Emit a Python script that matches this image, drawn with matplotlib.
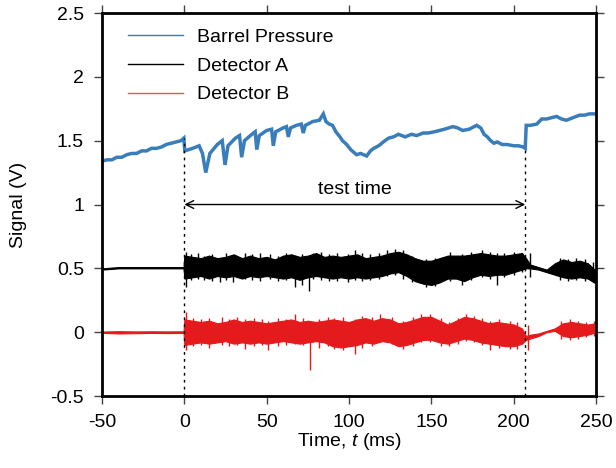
import numpy as np
import matplotlib.pyplot as plt
import matplotlib as mpl

mpl.rcParams['font.family'] = ['Liberation Sans', 'DejaVu Sans']
mpl.rcParams['mathtext.fontset'] = 'custom'
mpl.rcParams['mathtext.it'] = 'Liberation Sans:italic'
mpl.rcParams['mathtext.rm'] = 'Liberation Sans'
mpl.rcParams['axes.unicode_minus'] = False

# barrel pressure (V)
t_barrel = [-50, -47, -44, -41, -38, -35, -32, -29, -26, -23, -20, -17, -14,
            -11, -8, -5, -2, -0.3,
            0.3, 5, 9, 11, 13, 15.5, 20, 23, 24.7, 26.5, 31, 33.5, 34.8, 36.5,
            41, 43, 44, 45.5, 50, 53, 54, 55.5, 60, 62, 63.1, 64.5, 68, 71,
            72.2, 73.5, 78, 82, 84.4, 86, 88, 90, 92, 94.5, 96, 98.6, 101,
            104.6, 107, 110.7, 113, 115, 118, 120.8, 124, 127, 130, 134, 138,
            141, 145, 148, 152, 155, 158, 163, 166, 169, 173, 177.5, 180, 182,
            184, 186, 188, 190, 193, 196, 200, 203, 205.8, 207, 207.6, 210,
            214, 217, 220, 223, 226, 229, 232, 236, 240, 243, 246, 250]
v_barrel = [1.34, 1.35, 1.35, 1.37, 1.37, 1.39, 1.40, 1.40, 1.42, 1.42, 1.44,
            1.44, 1.45, 1.47, 1.48, 1.49, 1.50, 1.52,
            1.42, 1.44, 1.46, 1.40, 1.25, 1.40, 1.47, 1.50, 1.31, 1.46, 1.52,
            1.54, 1.37, 1.50, 1.55, 1.57, 1.43, 1.54, 1.58, 1.59, 1.46, 1.57,
            1.60, 1.61, 1.53, 1.60, 1.62, 1.63, 1.56, 1.62, 1.65, 1.66, 1.71,
            1.65, 1.63, 1.62, 1.57, 1.53, 1.50, 1.47, 1.43, 1.39, 1.40, 1.38,
            1.42, 1.44, 1.46, 1.49, 1.52, 1.53, 1.55, 1.53, 1.55, 1.54, 1.56,
            1.56, 1.57, 1.58, 1.59, 1.61, 1.60, 1.58, 1.59, 1.62, 1.60, 1.55,
            1.53, 1.50, 1.48, 1.49, 1.47, 1.47, 1.46, 1.46, 1.45, 1.44, 1.62,
            1.62, 1.63, 1.67, 1.67, 1.68, 1.69, 1.67, 1.66, 1.68, 1.70, 1.70,
            1.71, 1.71]

# detector envelopes (upper / lower edge of the noise band)
t_det = [-50, -40, -30, -20, -10, -0.5,
         0, 5, 10, 15, 20, 25, 30, 35, 40, 45, 50, 55, 60, 65, 70, 75, 80, 85,
         90, 95, 100, 105, 110, 115, 120, 125, 130, 135, 140, 145, 150, 155,
         160, 165, 170, 175, 180, 185, 190, 195, 200, 205,
         207.5, 210, 215, 220, 225, 230, 235, 240, 245, 250]
a_hi = [0.50, 0.51, 0.51, 0.51, 0.51, 0.51,
        0.60, 0.59, 0.58, 0.60, 0.58, 0.59, 0.61, 0.58, 0.60, 0.58, 0.59, 0.57,
        0.60, 0.61, 0.59, 0.60, 0.62, 0.59, 0.60, 0.59, 0.60, 0.61, 0.58, 0.59,
        0.60, 0.62, 0.63, 0.61, 0.58, 0.56, 0.56, 0.58, 0.60, 0.60, 0.60, 0.61,
        0.62, 0.61, 0.60, 0.60, 0.61, 0.62,
        0.58, 0.53, 0.51, 0.49, 0.54, 0.57, 0.55, 0.56, 0.54, 0.48]
a_lo = [0.49, 0.50, 0.50, 0.50, 0.50, 0.50,
        0.42, 0.43, 0.44, 0.42, 0.44, 0.43, 0.44, 0.42, 0.44, 0.43, 0.44, 0.43,
        0.42, 0.43, 0.41, 0.43, 0.44, 0.43, 0.42, 0.43, 0.42, 0.43, 0.42, 0.43,
        0.44, 0.46, 0.47, 0.44, 0.40, 0.38, 0.37, 0.39, 0.42, 0.42, 0.40, 0.43,
        0.45, 0.44, 0.45, 0.45, 0.47, 0.49,
        0.50, 0.50, 0.49, 0.47, 0.45, 0.43, 0.42, 0.43, 0.42, 0.38]
b_hi = [0.005, 0.008, 0.006, 0.007, 0.006, 0.007,
        0.10, 0.09, 0.08, 0.09, 0.07, 0.08, 0.10, 0.08, 0.09, 0.08, 0.07, 0.08,
        0.09, 0.10, 0.08, 0.09, 0.08, 0.09, 0.10, 0.09, 0.08, 0.10, 0.11, 0.09,
        0.11, 0.10, 0.07, 0.08, 0.10, 0.12, 0.12, 0.09, 0.06, 0.09, 0.12, 0.11,
        0.09, 0.07, 0.08, 0.07, 0.06, 0.03,
        -0.03, -0.02, -0.01, 0.01, 0.03, 0.07, 0.08, 0.07, 0.06, 0.07]
b_lo = [-0.005, -0.010, -0.008, -0.006, -0.007, -0.006,
        -0.10, -0.09, -0.08, -0.09, -0.08, -0.07, -0.09, -0.08, -0.09, -0.08,
        -0.09, -0.08, -0.07, -0.08, -0.09, -0.08, -0.07, -0.08, -0.11, -0.12,
        -0.11, -0.10, -0.08, -0.09, -0.07, -0.08, -0.11, -0.10, -0.08, -0.06,
        -0.06, -0.08, -0.09, -0.07, -0.05, -0.06, -0.08, -0.09, -0.10, -0.11,
        -0.11, -0.09,
        -0.06, -0.05, -0.03, 0.00, 0.01, -0.03, -0.04, -0.03, -0.02, 0.00]

# needle spikes sticking out of the bands: (time, low, high)
a_spikes = [(1.0, 0.355, 0.63), (4, 0.41, 0.61), (8, 0.42, 0.62),
            (12, 0.41, 0.60), (17, 0.40, 0.61), (21.6, 0.39, 0.58),
            (25, 0.41, 0.62), (29.6, 0.39, 0.59), (36.6, 0.42, 0.62),
            (41, 0.41, 0.61), (46, 0.40, 0.62), (52, 0.42, 0.61),
            (57, 0.40, 0.60), (62, 0.41, 0.62), (67.2, 0.355, 0.60),
            (71.2, 0.37, 0.61), (75.9, 0.32, 0.59), (78, 0.42, 0.62),
            (83, 0.41, 0.63), (88, 0.40, 0.61), (93, 0.40, 0.62),
            (99.5, 0.39, 0.61), (103.6, 0.41, 0.645), (108, 0.40, 0.62),
            (113, 0.41, 0.61), (118, 0.42, 0.62), (123, 0.44, 0.64),
            (128, 0.45, 0.65), (133, 0.42, 0.64), (138, 0.39, 0.60),
            (147, 0.355, 0.57), (152, 0.36, 0.58), (161.3, 0.40, 0.63),
            (168.3, 0.37, 0.61), (174, 0.41, 0.63), (180.5, 0.43, 0.64),
            (185.6, 0.42, 0.63), (189.6, 0.37, 0.62), (194, 0.43, 0.62),
            (200, 0.45, 0.63), (204.8, 0.47, 0.62), (209.8, 0.43, 0.62),
            (228, 0.41, 0.58), (233, 0.40, 0.57), (238, 0.41, 0.58),
            (243, 0.40, 0.57), (248, 0.39, 0.55)]
b_spikes = [(1.0, -0.14, 0.16), (5, -0.11, 0.11), (10, -0.10, 0.10),
            (15, -0.12, 0.11), (22.6, -0.10, 0.12), (27, -0.11, 0.10),
            (32, -0.10, 0.12), (36.8, -0.13, 0.10), (42, -0.11, 0.11),
            (47, -0.10, 0.10), (51, -0.14, 0.09), (57, -0.11, 0.11),
            (62, -0.10, 0.10), (67.2, -0.09, 0.14), (72, -0.10, 0.11),
            (76.3, -0.30, 0.05), (82, -0.12, 0.10), (87, -0.11, 0.12),
            (91, -0.13, 0.11), (96.5, -0.14, 0.12), (103.6, -0.17, 0.10),
            (108, -0.12, 0.13), (114, -0.11, 0.12), (119, -0.08, 0.14),
            (126, -0.09, 0.12), (133, -0.13, 0.09), (139, -0.11, 0.12),
            (144, -0.08, 0.14), (149, -0.08, 0.14), (156, -0.11, 0.11),
            (161, -0.11, 0.08), (166, -0.09, 0.11), (171, -0.07, 0.14),
            (176, -0.08, 0.13), (181, -0.10, 0.11), (185.6, -0.14, 0.09),
            (191, -0.12, 0.10), (197.7, -0.13, 0.09), (202, -0.13, 0.08),
            (208.8, -0.14, 0.06), (229, -0.05, 0.09), (234, -0.06, 0.10),
            (239, -0.05, 0.09), (244, -0.04, 0.08), (249, -0.03, 0.09)]

t_start, t_end = 0, 207
c_blue, c_black, c_red = '#3a7dbb', 'black', '#e41a1c'
fs = 14

fig = plt.figure(figsize=(6.16, 4.68), dpi=100)
ax = fig.add_axes([0.1656, 0.1538, 0.802, 0.8184])

ax.plot(t_barrel, v_barrel, color=c_blue, lw=2.5, solid_joinstyle='miter')

ax.fill_between(t_det, a_lo, a_hi, color=c_black, lw=0.8, edgecolor=c_black)
for t, lo, hi in a_spikes:
    ax.vlines(t, lo, hi, color=c_black, lw=1)
ax.fill_between(t_det, b_lo, b_hi, color=c_red, lw=0.8, edgecolor=c_red)
for t, lo, hi in b_spikes:
    ax.vlines(t, lo, hi, color=c_red, lw=1)

# legend proxies
ax.plot([], [], color=c_blue, lw=1, label='Barrel Pressure')
ax.plot([], [], color=c_black, lw=1, label='Detector A')
ax.plot([], [], color='#f05050', lw=1, label='Detector B')
ax.legend(loc='upper left', frameon=False, fontsize=fs,
          handlelength=2.84, handletextpad=0.72, labelspacing=0.57,
          borderaxespad=0, bbox_to_anchor=(0.037, 0.98))

# test time markers
ax.plot([t_start, t_start], [-0.5, 1.52], color='black', lw=1, ls=(0, (2, 3)))
ax.plot([t_end, t_end], [-0.5, 1.44], color='black', lw=1, ls=(0, (2, 3)))
ax.annotate('', xy=(t_start, 1.0), xytext=(t_end, 1.0),
            arrowprops=dict(arrowstyle='<->', lw=1, color='black',
                            shrinkA=0, shrinkB=0, mutation_scale=14))
ax.text((t_start + t_end) / 2, 1.05, 'test time', ha='center', va='bottom',
        fontsize=fs)

ax.set_xlim(-50, 250)
ax.set_ylim(-0.5, 2.5)
ax.set_xticks(np.arange(-50, 251, 50))
ax.set_yticks(np.arange(-0.5, 2.51, 0.5))
ax.set_yticklabels(['-0.5', '0', '0.5', '1', '1.5', '2', '2.5'])
ax.tick_params(direction='out', length=6, width=1, top=True, right=True,
               labelsize=fs, color='#444444', pad=7)
for s in ax.spines.values():
    s.set_linewidth(2)

ax.set_xlabel('Time, $t$ (ms)', fontsize=fs, labelpad=0)
ax.set_ylabel('Signal (V)', fontsize=fs)
ax.yaxis.set_label_coords(-0.152, 0.5)

fig.savefig('out.png', dpi=100)
